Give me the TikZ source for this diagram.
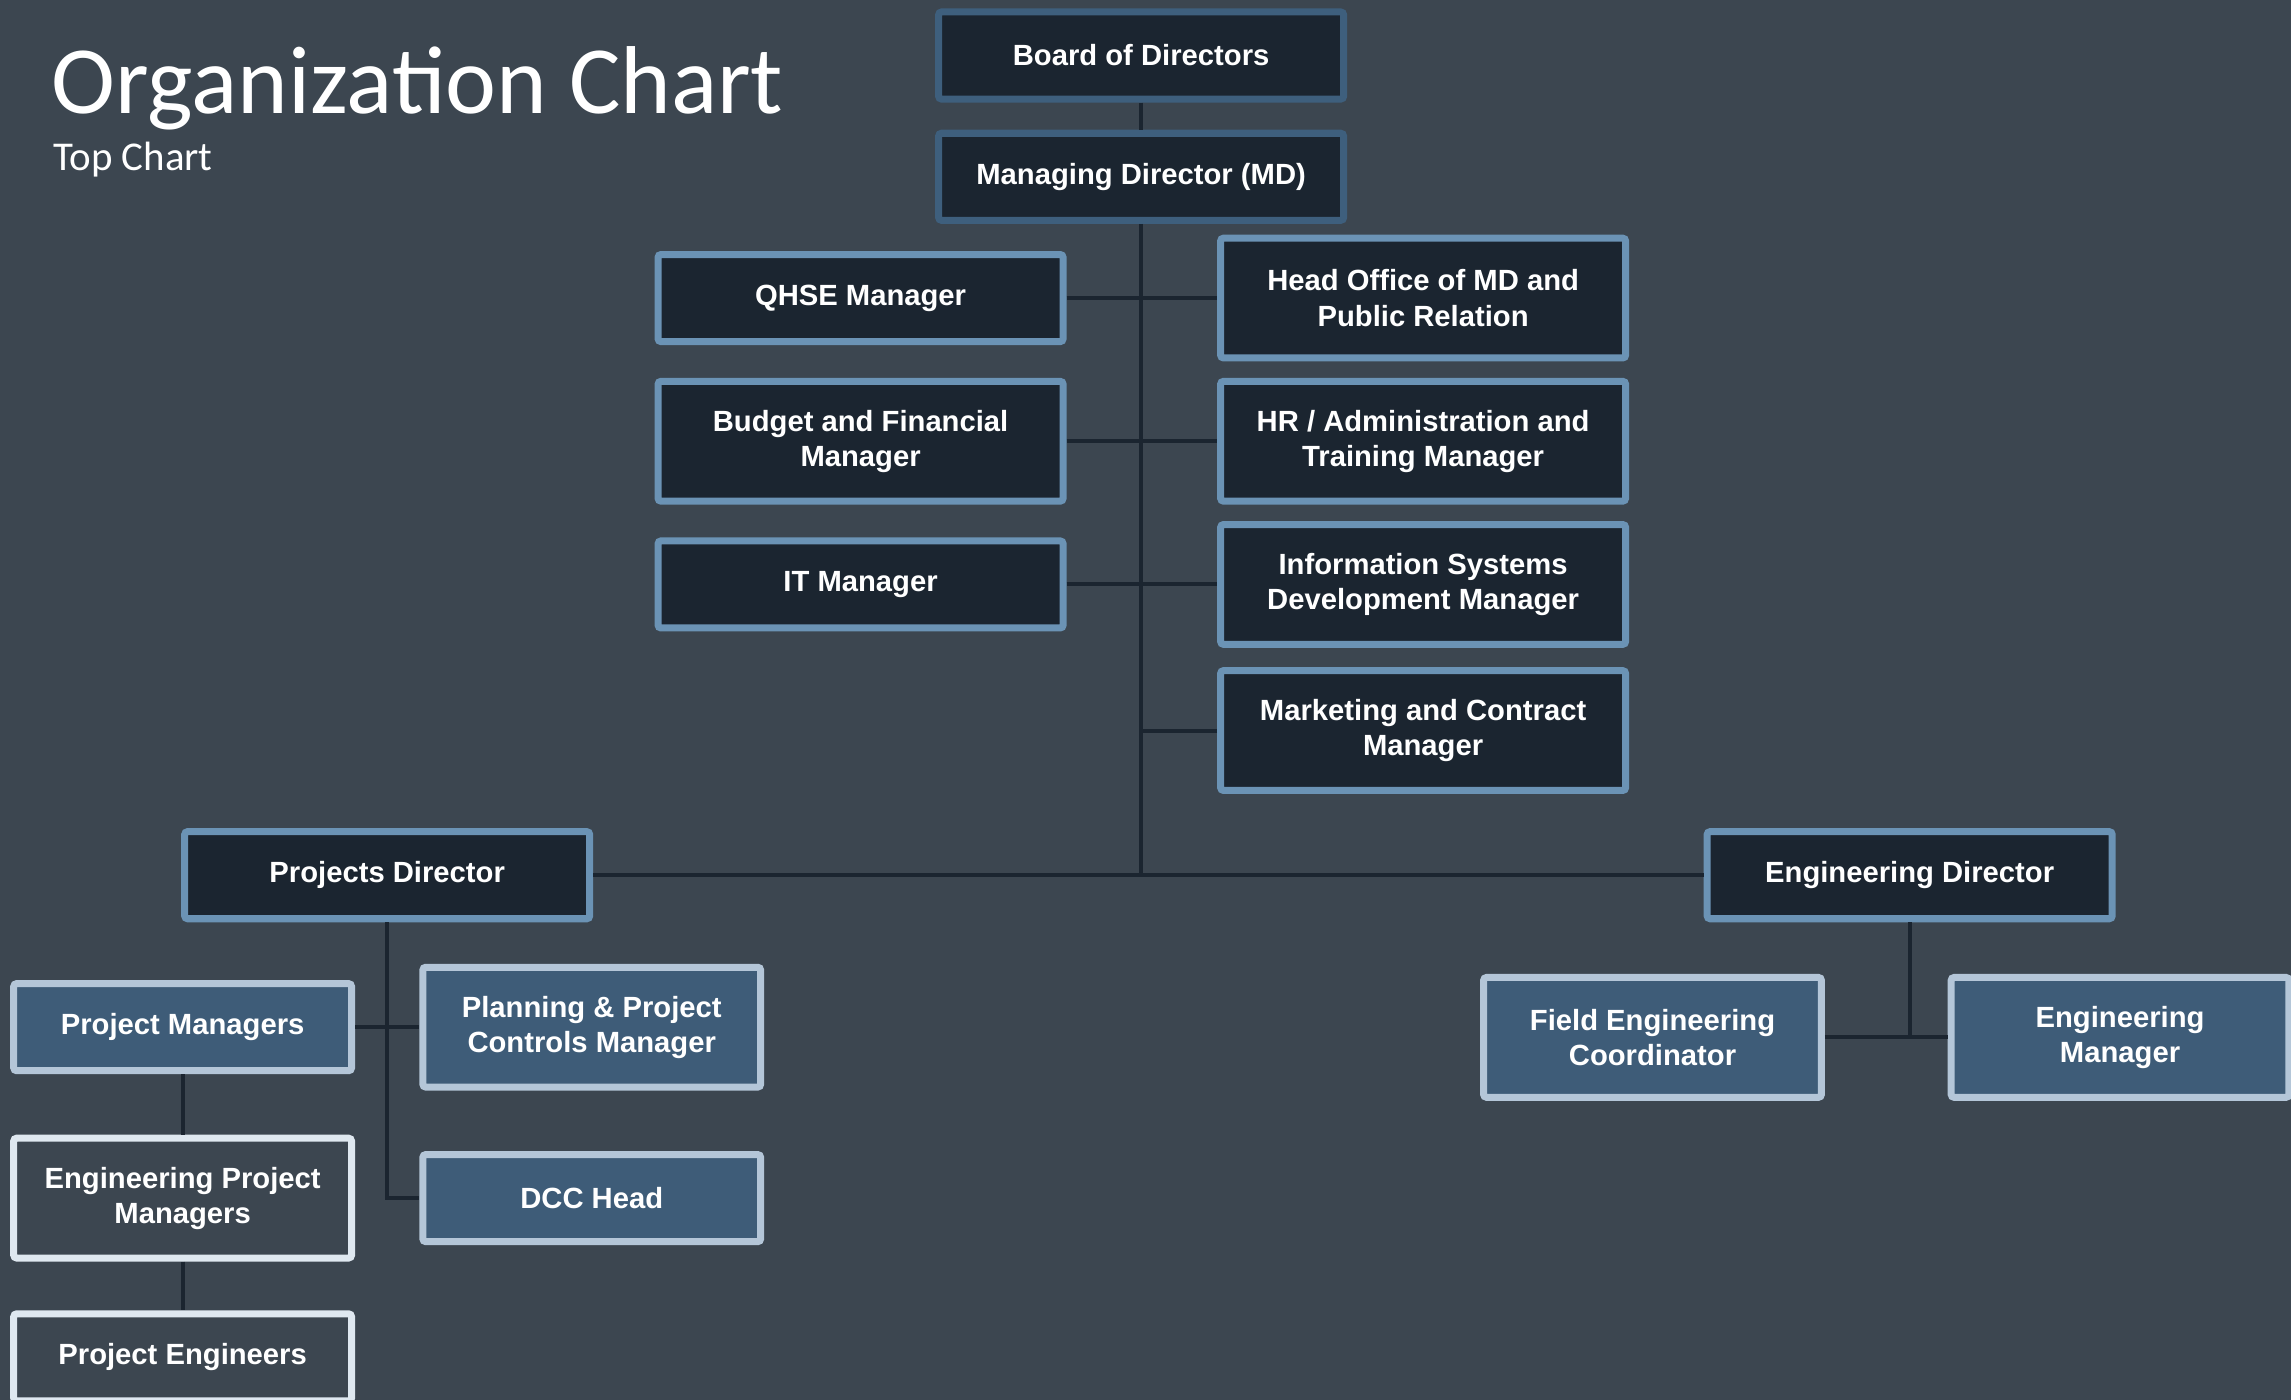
\documentclass[tikz,border=0pt]{standalone}
\usepackage{fontspec}
\setsansfont{Liberation Sans}
\newfontfamily\titlefont{Carlito}
\usepackage{tikz}
\usetikzlibrary{positioning}

\definecolor{slate}{RGB}{60,70,80}
\definecolor{boxdark}{RGB}{27,37,48}
\definecolor{edgedeep}{RGB}{62,95,125}
\definecolor{edgemid}{RGB}{107,147,181}
\definecolor{boxmid}{RGB}{62,92,120}
\definecolor{edgepale}{RGB}{180,198,216}
\definecolor{edgewhite}{RGB}{223,232,240}

\tikzset{
  orgbox/.style={draw, line width=2.4pt, rounded corners=1pt, text=white,
    font=\sffamily\bfseries\fontsize{10}{12}\selectfont, align=center, inner sep=0pt},
  wide/.style={minimum width=138.6pt},
  narrow/.style={minimum width=115.6pt},
  oneline/.style={minimum height=29.8pt},
  twoline/.style={minimum height=41pt},
  topbox/.style={orgbox, wide, oneline, fill=boxdark, draw=edgedeep},
  headbox/.style={orgbox, wide, fill=boxdark, draw=edgemid},
  unitbox/.style={orgbox, narrow, fill=boxmid, draw=edgepale},
  staffbox/.style={orgbox, narrow, fill=slate, draw=edgewhite},
  link/.style={draw=boxdark, line width=1.4pt}
}

\begin{document}
\begin{tikzpicture}[x=0.5pt,y=-0.5pt]
  \fill[slate] (0,0) rectangle (1568,958);
  \useasboundingbox (0,0) rectangle (1568,958);

  % title
  \node[anchor=base west, inner sep=0pt, text=white, font=\titlefont\fontsize{33}{36}\selectfont] (title) at (35,78) {Organization Chart};
  \node[anchor=base west, inner sep=0pt, text=white, font=\titlefont\fontsize{14}{16}\selectfont] (subtitle) at (36,117) {Top Chart};

  % top of the tree
  \node[topbox] (board) at (781,38) {Board of Directors};
  \node[topbox] (md) at (781,121) {Managing Director (MD)};

  \node[headbox, oneline] (qhse) at (589,204) {QHSE Manager};
  \node[headbox, twoline] (budget) at (589,302) {Budget and Financial\\Manager};
  \node[headbox, oneline] (it) at (589,400) {IT Manager};
  \node[headbox, twoline] (office) at (974,204) {Head Office of MD and\\Public Relation};
  \node[headbox, twoline] (hr) at (974,302) {HR / Administration and\\Training Manager};
  \node[headbox, twoline] (infosys) at (974,400) {Information Systems\\Development Manager};
  \node[headbox, twoline] (marketing) at (974,500) {Marketing and Contract\\Manager};

  \node[headbox, oneline] (projdir) at (265,599) {Projects Director};
  \node[headbox, oneline] (engdir) at (1307,599) {Engineering Director};

  % projects side
  \node[unitbox, oneline] (projmgr) at (125,703) {Project Managers};
  \node[unitbox, twoline] (planning) at (405,703) {Planning \& Project\\Controls Manager};
  \node[unitbox, oneline] (dcc) at (405,820) {DCC Head};
  \node[staffbox, twoline] (engprojmgr) at (125,820) {Engineering Project\\Managers};
  \node[staffbox, oneline] (projeng) at (125,929) {Project Engineers};

  % engineering side
  \node[unitbox, twoline] (fieldeng) at (1131,710) {Field Engineering\\Coordinator};
  \node[unitbox, twoline] (engmgr) at (1451,710) {Engineering\\Manager};

  % connectors
  \draw[link] (board) -- (md);
  \draw[link] (md.south) -- (md.south |- projdir.east);
  \draw[link] (qhse) -- (office);
  \draw[link] (budget) -- (hr);
  \draw[link] (it) -- (infosys);
  \draw[link] (marketing.west) -- (marketing.west -| md.south);
  \draw[link] (projdir) -- (engdir);
  \draw[link] (projdir.south) |- (dcc.west);
  \draw[link] (projmgr) -- (planning);
  \draw[link] (projmgr) -- (engprojmgr);
  \draw[link] (engprojmgr) -- (projeng);
  \draw[link] (engdir.south) -- (engdir.south |- fieldeng.east);
  \draw[link] (fieldeng) -- (engmgr);
\end{tikzpicture}
\end{document}
